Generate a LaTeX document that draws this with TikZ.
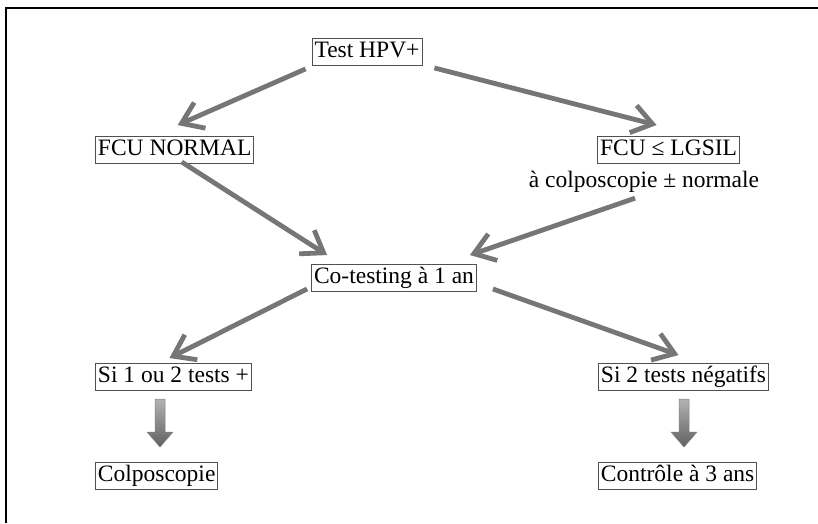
\documentclass[tikz,border=0pt]{standalone}
\usepackage{fontspec}
\setmainfont{Liberation Serif}
\usetikzlibrary{arrows.meta,calc}
\definecolor{arrgray}{RGB}{118,118,118}
\definecolor{boxgray}{RGB}{80,80,80}
\begin{document}
\begin{tikzpicture}[x=1pt,y=-1pt,
  box/.style={draw=boxgray,line width=0.9pt,inner xsep=2.5pt,inner ysep=3pt,text height=16pt,text depth=5pt,font=\fontsize{23.5}{28}\selectfont},
  plain/.style={inner sep=0pt,font=\fontsize{23.5}{28}\selectfont},
  conn/.style={draw=arrgray,line width=4.8pt,-{Straight Barb[length=20pt,width=28pt]}},
  blockarrow/.style={top color=black!30,bottom color=black!62,draw=black!50,line width=0.5pt}]
\useasboundingbox (0,0) rectangle (818,523);
\fill[white] (0,0) rectangle (818,523);
\draw[line width=2pt] (6,523) -- (6,8) -- (818,8);

\node[box] (hpv) at (367,52) {Test HPV+};
\node[box,anchor=west] (fcu) at (95,150) {FCU NORMAL};
\node[box,anchor=east] (lg) at (740,150) {FCU ≤ LGSIL};
\node[plain,anchor=base] (lg2) at (644,187) {à colposcopie ± normale};
\node[box] (co) at (394,278) {Co-testing à 1 an};
\node[box,anchor=west] (s1) at (95,377) {Si 1 ou 2 tests +};
\node[box,anchor=west] (s2) at (598,377) {Si 2 tests négatifs};
\node[box,anchor=west] (colpo) at (95,476) {Colposcopie};
\node[box,anchor=west] (ctrl) at (598,476) {Contrôle à 3 ans};

\draw[conn] ($(hpv.south west)+(-6,3)$) -- ($(fcu.north)+(3,-11)$);
\draw[conn] ($(hpv.south east)+(12,2)$) -- ($(lg.north)+(-12,-11)$);
\draw[conn] ($(fcu.south)+(7,-2)$) -- ($(co.north west)+(16,-9)$);
\draw[conn] ($(lg2.south)+(-9,6)$) -- ($(co.north east)+(-7,-9)$);
\draw[conn] ($(co.south west)+(-4,-3)$) -- ($(s1.north)+(-4,-5)$);
\draw[conn] ($(co.south east)+(16,-3)$) -- ($(s2.north)+(-5,-8)$);

\coordinate (d1) at (160,399);
\coordinate (d2) at (684,399);
\foreach \d in {d1,d2}{
  \path[blockarrow] ($(\d)+(-5,0)$) -- ($(\d)+(5,0)$) -- ($(\d)+(5,33)$) -- ($(\d)+(13,33)$) -- ($(\d)+(0,48)$) -- ($(\d)+(-13,33)$) -- ($(\d)+(-5,33)$) -- cycle;
}
\end{tikzpicture}
\end{document}
